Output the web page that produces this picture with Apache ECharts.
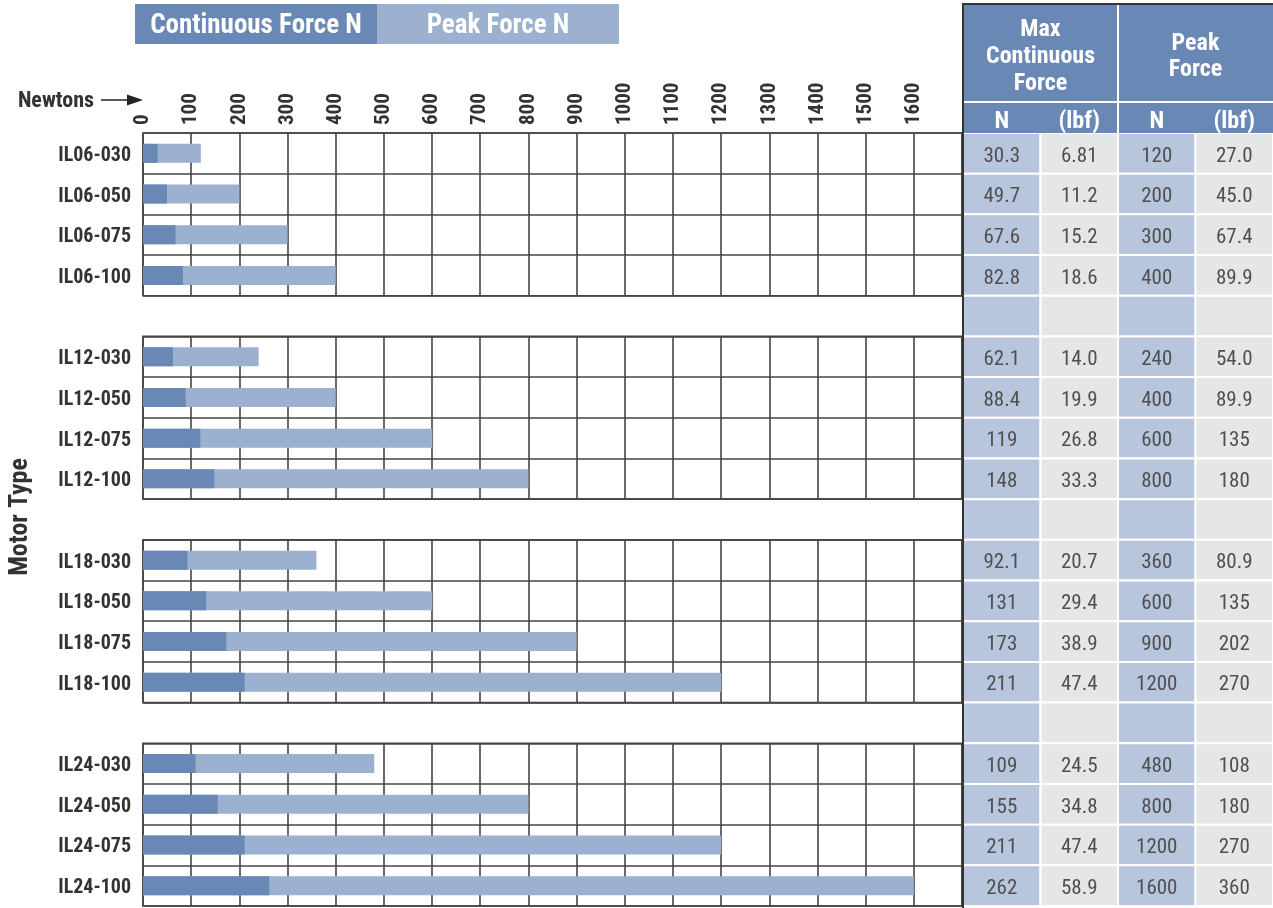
<!DOCTYPE html>
<html>
<head>
<meta charset="utf-8">
<script src="https://cdn.jsdelivr.net/npm/echarts@6/dist/echarts.min.js"></script>
<style>
html,body{margin:0;padding:0;background:#fff;}
#chart{width:1273px;height:908px;}
</style>
</head>
<body>
<div id="chart"></div>
<script>
// ---------- DATA ----------
const motorGroups = [
  ['IL06-030', 'IL06-050', 'IL06-075', 'IL06-100'],
  ['IL12-030', 'IL12-050', 'IL12-075', 'IL12-100'],
  ['IL18-030', 'IL18-050', 'IL18-075', 'IL18-100'],
  ['IL24-030', 'IL24-050', 'IL24-075', 'IL24-100']
];
const continuousN = [30.3, 49.7, 67.6, 82.8, 62.1, 88.4, 119, 148, 92.1, 131, 173, 211, 109, 155, 211, 262];
const continuousLbf = ['6.81', '11.2', '15.2', '18.6', '14.0', '19.9', '26.8', '33.3', '20.7', '29.4', '38.9', '47.4', '24.5', '34.8', '47.4', '58.9'];
const peakN = [120, 200, 300, 400, 240, 400, 600, 800, 360, 600, 900, 1200, 480, 800, 1200, 1600];
const peakLbf = ['27.0', '45.0', '67.4', '89.9', '54.0', '89.9', '135', '180', '80.9', '135', '202', '270', '108', '180', '270', '360'];
const continuousNText = ['30.3', '49.7', '67.6', '82.8', '62.1', '88.4', '119', '148', '92.1', '131', '173', '211', '109', '155', '211', '262'];
const peakNText = ['120', '200', '300', '400', '240', '400', '600', '800', '360', '600', '900', '1200', '480', '800', '1200', '1600'];
const xTickMax = 1700;
const xTickStep = 100;
const legendNames = ['Continuous Force N', 'Peak Force N'];
const tableColumns = ['N', '(lbf)', 'N', '(lbf)'];
const tableGroupHeads = ['Max\nContinuous\nForce', 'Peak\nForce'];

// ---------- LAYOUT ----------
const FF = '"Roboto Condensed", Roboto, sans-serif';
const DARK = '#6a88b5', LIGHT = '#9cb0cf', CELL_N = '#b7c5dd', CELL_L = '#e5e6e8';
const GRID_LINE = '#444', TXT = '#333';
const plotLeft = 143, plotRight = 962, plotTop = 133, plotBottom = 906;
const totalRows = 19;
const rowH = (plotBottom - plotTop) / totalRows;
const tableLeft = 963, tableRight = 1273, tableTop = 4, headSplit = 102;
const colW = (tableRight - tableLeft) / 4;

const grids = [], xAxes = [], yAxes = [], series = [];
motorGroups.forEach((cats, g) => {
  grids.push({
    left: plotLeft, width: plotRight - plotLeft,
    top: plotTop + g * 5 * rowH, height: 4 * rowH,
    show: true, borderColor: GRID_LINE, borderWidth: 1.6, containLabel: false
  });
  xAxes.push({
    type: 'value', gridIndex: g, min: 0, max: xTickMax, interval: xTickStep,
    position: 'top',
    axisLine: { show: false }, axisTick: { show: false },
    splitLine: { show: true, lineStyle: { color: GRID_LINE, width: 1.6 } },
    axisLabel: {
      show: g === 0, rotate: -90, margin: 8, color: TXT, fontFamily: FF,
      fontWeight: 'bold', fontSize: 21,
      formatter: v => (v >= xTickMax ? '' : String(v))
    }
  });
  yAxes.push({
    type: 'category', gridIndex: g, data: cats, inverse: true,
    axisLine: { show: false }, axisTick: { show: false },
    splitLine: { show: true, lineStyle: { color: GRID_LINE, width: 1.6 } },
    axisLabel: {
      margin: 12,
      formatter: v => '{a|' + v + '}',
      rich: { a: { color: TXT, fontFamily: FF, fontWeight: 'bold', fontSize: 20, padding: [5, 0, 0, 0] } }
    }
  });
  const sl = (arr) => arr.slice(g * 4, g * 4 + 4);
  series.push({
    name: legendNames[1], type: 'bar', xAxisIndex: g, yAxisIndex: g,
    data: sl(peakN), barWidth: 19, barGap: '-100%',
    itemStyle: { color: LIGHT }, silent: true, z: 3
  });
  series.push({
    name: legendNames[0], type: 'bar', xAxisIndex: g, yAxisIndex: g,
    data: sl(continuousN), barWidth: 19, barGap: '-100%',
    itemStyle: { color: DARK }, silent: true, z: 4
  });
});

// table grid
const tableRows = [];
const tableData = [];
const tableText = [];
let r = 0;
motorGroups.forEach((cats, g) => {
  cats.forEach((c, i) => {
    const k = g * 4 + i;
    const vals = [continuousNText[k], continuousLbf[k], peakNText[k], peakLbf[k]];
    vals.forEach((v, col) => { tableData.push([col, r]); tableText.push(v); });
    tableRows.push(c);
    r++;
  });
  if (g < motorGroups.length - 1) {
    for (let col = 0; col < 4; col++) { tableData.push([col, r]); tableText.push(''); }
    tableRows.push('gap' + g);
    r++;
  }
});
const tIdx = grids.length;
grids.push({ left: tableLeft, top: plotTop, width: tableRight - tableLeft, height: plotBottom - plotTop });
xAxes.push({ type: 'category', gridIndex: tIdx, data: tableColumns, show: false });
yAxes.push({ type: 'category', gridIndex: tIdx, data: tableRows.map((x, i) => x + '#' + i), inverse: true, show: false });
const colFill = [CELL_N, CELL_L, CELL_N, CELL_L];
series.push({
  type: 'custom', xAxisIndex: tIdx, yAxisIndex: tIdx, data: tableData, silent: true,
  renderItem: (params, api) => {
    const col = api.value(0);
    const c = api.coord([col, api.value(1)]);
    const s = api.size([1, 1]);
    return {
      type: 'group',
      children: [
        { type: 'rect', shape: { x: c[0] - s[0] / 2, y: c[1] - s[1] / 2, width: s[0], height: s[1] },
          style: { fill: colFill[col], stroke: '#fff', lineWidth: 2 } },
        { type: 'text', style: { text: tableText[params.dataIndex], x: c[0], y: c[1] + 3,
          align: 'center', verticalAlign: 'middle', fill: '#505050', font: '21px ' + FF } }
      ]
    };
  }
});

// ---------- GRAPHIC (legend, header, annotations) ----------
const graphic = [];
const legX = [135, 377, 619];
[DARK, LIGHT].forEach((col, i) => {
  graphic.push({ type: 'rect', left: legX[i], top: 4, shape: { width: legX[i + 1] - legX[i], height: 40 }, style: { fill: col }, z: 10 });
  graphic.push({ type: 'text', x: (legX[i] + legX[i + 1]) / 2, y: 26, z: 11,
    style: { text: legendNames[i], fill: '#fff', font: 'bold 27px ' + FF, align: 'center', verticalAlign: 'middle' } });
});
graphic.push({ type: 'text', x: 94, y: 101, z: 10,
  style: { text: 'Newtons', fill: TXT, font: 'bold 22px ' + FF, align: 'right', verticalAlign: 'middle' } });
graphic.push({ type: 'line', z: 10, shape: { x1: 101, y1: 100, x2: 132, y2: 100 }, style: { stroke: '#222', lineWidth: 1.5 } });
graphic.push({ type: 'polygon', z: 10, shape: { points: [[127, 94.5], [143, 100], [127, 105.5]] }, style: { fill: '#222' } });
graphic.push({ type: 'text', x: 20, y: 517, rotation: Math.PI / 2, z: 10,
  style: { text: 'Motor Type', fill: TXT, font: 'bold 26px ' + FF, align: 'center', verticalAlign: 'middle' } });
graphic.push({ type: 'rect', z: 10, shape: { x: tableLeft, y: tableTop, width: tableRight - tableLeft, height: plotTop - tableTop }, style: { fill: DARK } });
tableGroupHeads.forEach((t, i) => {
  graphic.push({ type: 'text', z: 11, x: tableLeft + colW * (2 * i + 1), y: (tableTop + headSplit) / 2 + 4,
    style: { text: t, fill: '#fff', font: 'bold 24px ' + FF, lineHeight: 26.7, align: 'center', verticalAlign: 'middle' } });
});
tableColumns.forEach((t, i) => {
  graphic.push({ type: 'text', z: 11, x: tableLeft + colW * (i + 0.5), y: (headSplit + plotTop) / 2 + 4,
    style: { text: t, fill: '#fff', font: 'bold 24px ' + FF, align: 'center', verticalAlign: 'middle' } });
});
graphic.push({ type: 'line', z: 12, shape: { x1: tableLeft, y1: headSplit, x2: tableRight, y2: headSplit }, style: { stroke: '#fff', lineWidth: 2 } });
graphic.push({ type: 'line', z: 12, shape: { x1: tableLeft + 2 * colW, y1: tableTop, x2: tableLeft + 2 * colW, y2: plotTop }, style: { stroke: '#fff', lineWidth: 2 } });
graphic.push({ type: 'polyline', z: 13, shape: { points: [[tableLeft, plotBottom + 2], [tableLeft, tableTop], [tableRight, tableTop]] }, style: { stroke: '#333', lineWidth: 2, fill: null } });

const chart = echarts.init(document.getElementById('chart'), null, { renderer: 'canvas' });
chart.setOption({
  animation: false,
  backgroundColor: '#fff',
  grid: grids, xAxis: xAxes, yAxis: yAxes, series: series, graphic: graphic
});
</script>
</body>
</html>
